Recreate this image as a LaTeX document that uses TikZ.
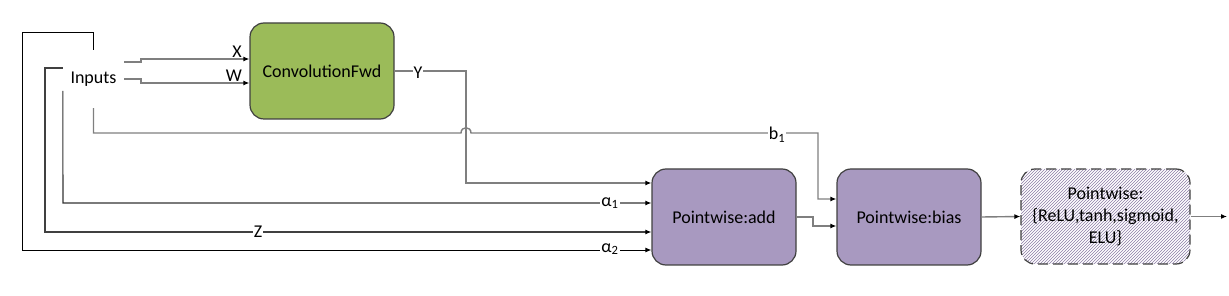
\documentclass[tikz,border=0pt]{standalone}
\usepackage{fontspec}
\setmainfont{Carlito}
\usetikzlibrary{arrows.meta,patterns}
\definecolor{convgreen}{HTML}{9BBB59}
\definecolor{pwpurple}{HTML}{A899C0}
\definecolor{edgegray}{HTML}{404040}
\definecolor{wire}{HTML}{7F7F7F}
\definecolor{hatchcol}{HTML}{8C7CA6}
\begin{document}
\begin{tikzpicture}[x=1pt,y=-1pt,
  every node/.style={font=\fontsize{18}{22}\selectfont, text=black},
  block/.style={draw=edgegray, line width=1.2pt, rounded corners=14pt,
    minimum width=144pt, minimum height=96pt, inner sep=0pt, align=center},
  conn/.style={draw=wire, line width=1.4pt, -{Latex[length=6pt,width=5pt,color=black]}},
  darkconn/.style={conn, draw=black, line width=0.9pt},
  wlabel/.style={fill=white, inner sep=1pt}
]
\useasboundingbox (0,0) rectangle (1229,296);

% nodes
\node[minimum width=61pt, minimum height=58pt, inner sep=0pt] (inputs) at (93.5,79) {Inputs};
\node[block, fill=convgreen] (conv) at (322,71) {ConvolutionFwd};
\node[block, fill=pwpurple] (add) at (724,217) {Pointwise:add};
\node[block, fill=pwpurple] (bias) at (909,217) {Pointwise:bias};
\node[block, minimum width=169pt, minimum height=95pt, dash pattern=on 10pt off 5pt,
      pattern=north east lines, pattern color=hatchcol] (act) at (1105.5,216.5)
      {Pointwise:\\\{ReLU,tanh,sigmoid,\\ELU\}};
\coordinate (out) at (1227,216.5);

% connectors
\draw[conn] (inputs.east |- 0,62) -- (141,62) -- (141,59) -- (conv.west |- 0,59);
\draw[conn] (inputs.east |- 0,79) -- (141,79) -- (141,83) -- (conv.west |- 0,83);
\draw[conn] (conv.east) -- (466,71) -- (466,183) -- (add.west |- 0,183);
\draw[conn, draw=black!80, line width=1.1pt] (inputs.west |- 0,91) -- (63,203) -- (add.west |- 0,203);
\draw[conn, draw=black!75, line width=1.1pt] (inputs.west |- 0,68) -- (45,68) -- (45,232) -- (add.west |- 0,232);
\draw[darkconn] (inputs.north) -- (93.5,32) -- (22,32) -- (22,250) -- (add.west |- 0,250);
\draw[conn] (inputs.south) -- (93.5,133) -- (461,133)
   .. controls (461,126) and (471,126) .. (471,133) -- (818,133) -- (818,199) -- (bias.west |- 0,199);
\draw[conn] (add.east) -- (813,217) -- (813,226) -- (bias.west |- 0,226);
\draw[conn] (bias.east) -- (act.west);
\draw[conn] (act.east) -- (out);

% labels
\node[wlabel, inner sep=0pt] (lx) at (237,52) {X};
\node[wlabel, inner sep=0pt] (lw) at (234,76) {W};
\node[wlabel] (ly) at (418,73) {Y};
\node[wlabel] (lb) at (777,135) {b\textsubscript{1}};
\node[wlabel] (la1) at (610,203) {α\textsubscript{1}};
\node[wlabel] (lz) at (258,232) {Z};
\node[wlabel] (la2) at (610,249) {α\textsubscript{2}};
\end{tikzpicture}
\end{document}
